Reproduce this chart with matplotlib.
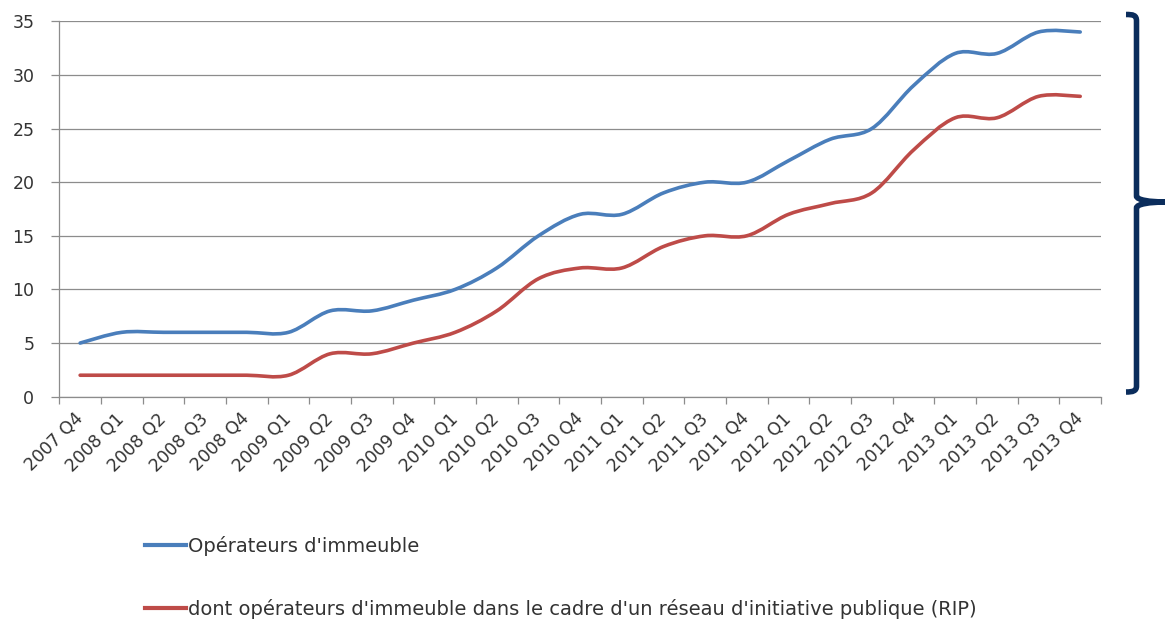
import matplotlib
matplotlib.use("Agg")
import numpy as np
import matplotlib.pyplot as plt
from matplotlib.path import Path
from matplotlib.patches import PathPatch
from matplotlib.lines import Line2D

plt.rcParams['font.family'] = ['DejaVu Sans']

quarters = ["2007 Q4", "2008 Q1", "2008 Q2", "2008 Q3", "2008 Q4",
            "2009 Q1", "2009 Q2", "2009 Q3", "2009 Q4",
            "2010 Q1", "2010 Q2", "2010 Q3", "2010 Q4",
            "2011 Q1", "2011 Q2", "2011 Q3", "2011 Q4",
            "2012 Q1", "2012 Q2", "2012 Q3", "2012 Q4",
            "2013 Q1", "2013 Q2", "2013 Q3", "2013 Q4"]
operateurs = [5, 6, 6, 6, 6, 6, 8, 8, 9, 10, 12, 15, 17,
              17, 19, 20, 20, 22, 24, 25, 29, 32, 32, 34, 34]
dont_rip = [2, 2, 2, 2, 2, 2, 4, 4, 5, 6, 8, 11, 12,
            12, 14, 15, 15, 17, 18, 19, 23, 26, 26, 28, 28]

label_blue = "Opérateurs d'immeuble"
label_red = "dont opérateurs d'immeuble dans le cadre d'un réseau d'initiative publique (RIP)"

BLUE = "#4a7ebb"
RED = "#be4b48"
GRID = "#8c8c8c"
TXT = "#333333"


def smooth_path(xs, ys):
    # excel-like smoothed line: cubic bezier through every point
    pts = np.column_stack([xs, ys]).astype(float)
    ext = np.vstack([pts[0], pts, pts[-1]])
    verts = [pts[0]]
    codes = [Path.MOVETO]
    for i in range(len(pts) - 1):
        p0, p1, p2, p3 = ext[i], ext[i + 1], ext[i + 2], ext[i + 3]
        verts += [p1 + (p2 - p0) / 6, p2 - (p3 - p1) / 6, p2]
        codes += [Path.CURVE4] * 3
    return Path(verts, codes)


fig = plt.figure(figsize=(11.65, 6.2), dpi=100)
ax = fig.add_axes([0.0509, 0.3602, 0.8942, 0.6055])

x = np.arange(len(quarters))
for vals, col in [(operateurs, BLUE), (dont_rip, RED)]:
    ax.add_patch(PathPatch(smooth_path(x, vals), facecolor="none",
                           edgecolor=col, lw=2.6, capstyle="round", zorder=3))

ax.set_xlim(-0.5, len(quarters) - 0.5)
ax.set_ylim(0, 35)
ax.set_yticks(np.arange(0, 36, 5))
ax.yaxis.grid(True, color=GRID, lw=0.9)
ax.set_axisbelow(True)

ax.set_xticks(x)
ax.set_xticklabels(quarters, rotation=45, ha="right", va="center",
                   rotation_mode="anchor", fontsize=12.5, color=TXT)
ax.set_xticks(np.arange(-0.5, len(quarters), 1), minor=True)
ax.tick_params(axis="x", which="major", length=0, pad=14)
ax.tick_params(axis="x", which="minor", length=5, color=GRID, width=0.9)
ax.tick_params(axis="y", length=6, color=GRID, width=0.9, pad=12,
               labelsize=12.5, labelcolor=TXT)

for s in ["top", "right"]:
    ax.spines[s].set_visible(False)
for s in ["left", "bottom"]:
    ax.spines[s].set_color(GRID)
    ax.spines[s].set_linewidth(0.9)

handles = [Line2D([], [], color=BLUE, lw=3), Line2D([], [], color=RED, lw=3)]
fig.legend(handles, [label_blue, label_red], loc="upper left",
           bbox_to_anchor=(145 / 1165, 1 - 536 / 620), frameon=False,
           fontsize=14, handlelength=2.1, handletextpad=0.1,
           labelspacing=2.2, borderpad=0, borderaxespad=0, labelcolor=TXT)

# accolade on the right
W, H = 1165.0, 620.0
bx = 1136.5
brace = [(1126, 14.5), (1133, 14.5), (bx, 15), (bx, 21),
         (bx, 196), (bx, 200), (1150, 202), (1166, 202),
         (1150, 202), (bx, 204), (bx, 208),
         (bx, 386), (bx, 391), (1133, 392), (1126, 392)]
codes = [Path.MOVETO, Path.CURVE4, Path.CURVE4, Path.CURVE4,
         Path.LINETO, Path.CURVE4, Path.CURVE4, Path.CURVE4,
         Path.CURVE4, Path.CURVE4, Path.CURVE4,
         Path.LINETO, Path.CURVE4, Path.CURVE4, Path.CURVE4]
brace = [(px / W, 1 - py / H) for px, py in brace]
fig.add_artist(PathPatch(Path(brace, codes), facecolor="none",
                         edgecolor="#0b2d5c", lw=4.0,
                         transform=fig.transFigure))

fig.savefig("out.png", dpi=100)
